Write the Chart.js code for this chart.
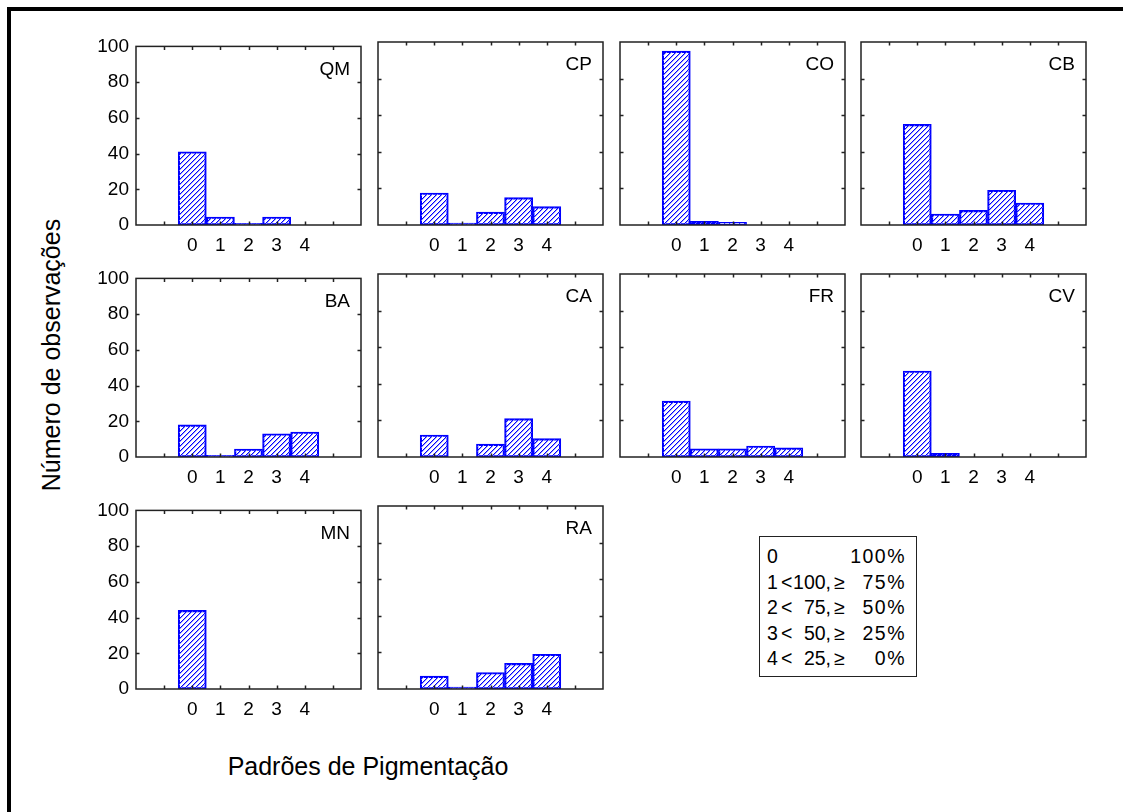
<!DOCTYPE html>
<html lang="pt">
<head>
<meta charset="utf-8">
<title>Padrões de Pigmentação</title>
<script src="https://cdn.jsdelivr.net/npm/chart.js@4.4.1/dist/chart.umd.min.js"></script>
<style>
  html, body { margin: 0; padding: 0; background: #fff; }
  body { width: 1123px; height: 812px; overflow: hidden; position: relative;
         font-family: "Liberation Sans", Arial, sans-serif; color: #000; }
  .frame { position: absolute; left: 7px; top: 7px; width: 1300px; height: 1000px;
           border-left: 4px solid #000; border-top: 4px solid #000; }
  canvas.panel { position: absolute; }
  .ytitle { position: absolute; left: 51px; top: 355px; font-size: 25px; white-space: nowrap;
            transform: translate(-50%, -50%) rotate(-90deg); }
  .xtitle { position: absolute; left: 368px; top: 766px; font-size: 25px; white-space: nowrap;
            transform: translate(-50%, -50%); }
  .legend { position: absolute; left: 759px; top: 536px; width: 156px; height: 139px;
            border: 1.5px solid #222; font-size: 19.5px; }
  .legend .row { position: absolute; left: 0; width: 156px; height: 24px; line-height: 24px; }
  .legend span { position: absolute; top: 0; white-space: nowrap; }
  .legend span.wide { letter-spacing: 1.5px; }
</style>
</head>
<body>
<div class="frame"></div>
<div class="ytitle">Número de observações</div>
<div class="xtitle">Padrões de Pigmentação</div>
<div class="legend" id="legend"></div>

<script>
// Pigmentation classes on the x axis and the observation counts per site
const categories = [0, 1, 2, 3, 4];
const panelNames = ['QM', 'CP', 'CO', 'CB', 'BA', 'CA', 'FR', 'CV', 'MN', 'RA'];
const qm = [41, 4.5, 1, 4.5, 0];
const cp = [17.5, 1, 7, 15, 10];
const co = [95, 2, 1.5, 0, 0];
const cb = [55, 6, 8, 19, 12];
const ba = [18, 1, 4.5, 13, 14];
const ca = [12, 0, 7, 21, 10];
const fr = [30.5, 4.5, 4.5, 6, 5];
const cv = [47, 2, 0, 0, 0];
const mn = [44, 0, 0, 0, 0];
const ra = [7, 1, 9, 14, 19];
const seriesValues = [qm, cp, co, cb, ba, ca, fr, cv, mn, ra];

// Axis ticks
const yTicks = [0, 20, 40, 60, 80, 100];
const xTicks = [-1, 0, 1, 2, 3, 4, 5];
const xRange = [-2, 6];

// Key to the classes
const legendCodes = ['0', '1', '2', '3', '4'];
const legendUpper = ['', '100', '75', '50', '25'];
const legendLower = ['100%', '75%', '50%', '25%', '0%'];

// ---- layout of the panel grid ----
const colLeft = [136, 378, 620, 861];
const rowTop = [42, 274, 506];
const plotW = 225, plotH = 183;
const PAD_L = 60, PAD_R = 12, PAD_T = 14, PAD_B = 36;
const BLUE = '#0000ff';

Chart.defaults.font.family = '"Liberation Sans", Arial, sans-serif';
Chart.defaults.color = '#000';

// diagonal hatch fill, drawn pixel by pixel so the lines stay crisp
function makeHatch() {
  const s = 5;
  const c = document.createElement('canvas');
  c.width = s; c.height = s;
  const g = c.getContext('2d');
  for (let i = 0; i < s; i++) {
    const x = s - 1 - i;
    g.fillStyle = BLUE;
    g.fillRect(x, i, 1, 1);
    g.fillStyle = '#a0a0ff';
    g.fillRect((x + 1) % s, i, 1, 1);
  }
  return g.createPattern(c, 'repeat');
}
const hatch = makeHatch();

// box around the plot area, inward tick marks and the site name
const framePlugin = {
  id: 'panelFrame',
  afterDraw(chart, args, opts) {
    const { ctx, chartArea: a, scales } = chart;
    ctx.save();
    ctx.strokeStyle = '#222';
    ctx.lineWidth = 1.5;
    ctx.strokeRect(a.left, a.top, a.right - a.left, a.bottom - a.top);
    ctx.beginPath();
    const t = 3.5;
    scales.x.ticks.forEach(tk => {
      if (tk.value <= xRange[0] || tk.value >= xRange[1]) return;
      const x = Math.round(scales.x.getPixelForValue(tk.value)) + 0.5;
      ctx.moveTo(x, a.top); ctx.lineTo(x, a.top + t);
      ctx.moveTo(x, a.bottom); ctx.lineTo(x, a.bottom - t);
    });
    scales.y.ticks.forEach(tk => {
      if (tk.value <= 0 || tk.value >= 100) return;
      const y = Math.round(scales.y.getPixelForValue(tk.value)) + 0.5;
      ctx.moveTo(a.left, y); ctx.lineTo(a.left + t, y);
      ctx.moveTo(a.right, y); ctx.lineTo(a.right - t, y);
    });
    ctx.stroke();
    ctx.fillStyle = '#000';
    ctx.font = '19px "Liberation Sans", Arial, sans-serif';
    ctx.textAlign = 'right';
    ctx.textBaseline = 'middle';
    ctx.fillText(opts.name, a.right - 11, a.top + 23);
    ctx.restore();
  }
};

function makePanel(idx) {
  const col = idx % 4, row = Math.floor(idx / 4);
  const vals = seriesValues[idx];
  const canvas = document.createElement('canvas');
  canvas.className = 'panel';
  const w = PAD_L + plotW + PAD_R, h = PAD_T + plotH + PAD_B;
  canvas.width = w; canvas.height = h;
  canvas.style.width = w + 'px'; canvas.style.height = h + 'px';
  canvas.style.left = (colLeft[col] - PAD_L) + 'px';
  canvas.style.top = (rowTop[row] - PAD_T) + 'px';
  document.body.appendChild(canvas);

  new Chart(canvas, {
    type: 'bar',
    data: {
      datasets: [{
        data: categories.map((c, i) => ({ x: c, y: vals[i] })),
        backgroundColor: hatch,
        borderColor: BLUE,
        borderWidth: 1.5,
        borderSkipped: false,
        barPercentage: 1,
        categoryPercentage: 1
      }]
    },
    options: {
      responsive: false,
      animation: false,
      devicePixelRatio: 1,
      layout: { padding: { top: PAD_T, right: PAD_R, left: 0, bottom: 0 } },
      plugins: {
        legend: { display: false },
        tooltip: { enabled: false },
        panelFrame: { name: panelNames[idx] }
      },
      scales: {
        x: {
          type: 'linear',
          min: xRange[0], max: xRange[1],
          offset: false,
          grid: { display: false, drawTicks: false },
          border: { display: false },
          afterBuildTicks: s => { s.ticks = xTicks.map(v => ({ value: v })); },
          ticks: {
            autoSkip: false, maxRotation: 0, padding: 9,
            font: { size: 19 }, color: '#000',
            callback: v => categories.includes(v) ? String(v) : ''
          },
          afterFit: s => { s.height = PAD_B; }
        },
        y: {
          min: 0, max: 100,
          grid: { display: false, drawTicks: false },
          border: { display: false },
          afterBuildTicks: s => { s.ticks = yTicks.map(v => ({ value: v })); },
          ticks: { display: col === 0, padding: 7, font: { size: 19 }, color: '#000' },
          afterFit: s => { s.width = PAD_L; }
        }
      }
    },
    plugins: [framePlugin]
  });
}

seriesValues.forEach((_, i) => makePanel(i));

// key box
const legend = document.getElementById('legend');
legendCodes.forEach((code, i) => {
  const row = document.createElement('div');
  row.className = 'row';
  row.style.top = (7 + i * 25.5) + 'px';
  const add = (text, left, width, align, cls) => {
    const sp = document.createElement('span');
    sp.textContent = text;
    sp.style.left = left + 'px';
    if (width) { sp.style.width = width + 'px'; sp.style.textAlign = align; }
    if (cls) sp.className = cls;
    row.appendChild(sp);
  };
  add(code, 7);
  if (legendUpper[i]) {
    add('<', 21);
    add(legendUpper[i] + ',', 26, 45, 'right');
    add('≥', 74);
  }
  add(legendLower[i], 80, 66, 'right', 'wide');
  legend.appendChild(row);
});
</script>
</body>
</html>
